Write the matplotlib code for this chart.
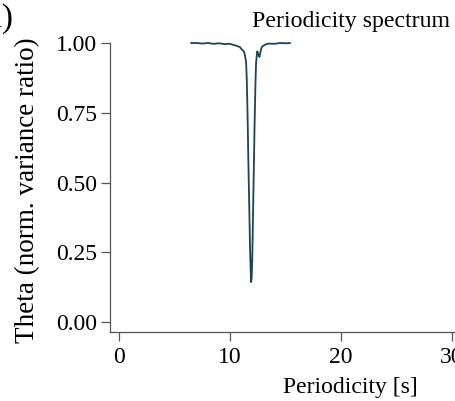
import matplotlib
matplotlib.use("Agg")
import matplotlib.pyplot as plt

# periodicity spectrum
periods = [6.5, 7.0, 7.5, 8.0, 8.5, 9.0, 9.5, 10.0, 10.3, 10.6, 10.9, 11.1,
           11.25, 11.35, 11.45, 11.5, 11.55, 11.6, 11.65, 11.7, 11.75, 11.8,
           11.85, 11.9, 11.95, 12.0, 12.05, 12.1, 12.15, 12.2, 12.25, 12.3,
           12.35, 12.45, 12.55, 12.65, 12.75, 12.85, 13.0, 13.2, 13.5, 14.0,
           14.5, 15.0, 15.4]
theta = [1.0, 1.0, 0.998, 1.0, 0.997, 0.999, 0.996, 0.997, 0.993, 0.99,
         0.985, 0.975, 0.97, 0.955, 0.93, 0.88, 0.80, 0.70, 0.58, 0.48, 0.38,
         0.27, 0.20, 0.143, 0.16, 0.22, 0.33, 0.45, 0.56, 0.68, 0.78, 0.87,
         0.93, 0.97, 0.96, 0.95, 0.97, 0.985, 0.99, 0.995, 0.998, 0.997, 1.0,
         0.999, 1.0]
x_ticks = [0, 10, 20, 30]
y_ticks = [0.0, 0.25, 0.5, 0.75, 1.0]
y_tick_labels = ["0.00", "0.25", "0.50", "0.75", "1.00"]

plt.rcParams['font.family'] = ['Liberation Serif', 'DejaVu Serif']

W, H = 455, 401
fig = plt.figure(figsize=(W / 100, H / 100), dpi=100)

# axes extend past the right edge of the figure (reference is cropped)
left, bottom, top, right = 110, 332, 43, 463
ax = fig.add_axes([left / W, 1 - bottom / H, (right - left) / W, (bottom - top) / H])

ax.plot(periods, theta, color='#1d4356', lw=1.3, clip_on=False)

ax.set_xlim(-0.82, 31)
ax.set_ylim(-0.0358, 1.0)
ax.set_xticks(x_ticks)
ax.set_yticks(y_ticks)
ax.set_yticklabels(y_tick_labels)

for s in ['top', 'right']:
    ax.spines[s].set_visible(False)
for s in ['left', 'bottom']:
    ax.spines[s].set_linewidth(0.9)
    ax.spines[s].set_color('#555555')
ax.tick_params(length=6.5, width=0.9, color='#555555', labelsize=17)
ax.tick_params(axis='y', pad=3)
ax.tick_params(axis='x', pad=4)

fig.text(350 / W, 1 - 388 / H, "Periodicity [s]", ha='center', va='center', fontsize=17)
fig.text(28 / W, 1 - 190 / H, "Theta (norm. variance ratio)", ha='center', va='center',
         rotation=90, fontsize=19.5)
fig.text(351 / W, 1 - 21 / H, "Periodicity spectrum", ha='center', va='center', fontsize=17.2)
fig.text(13 / W, 1 - 19 / H, "(a)", ha='right', va='center', fontsize=24)

fig.savefig("out.png", dpi=100)
